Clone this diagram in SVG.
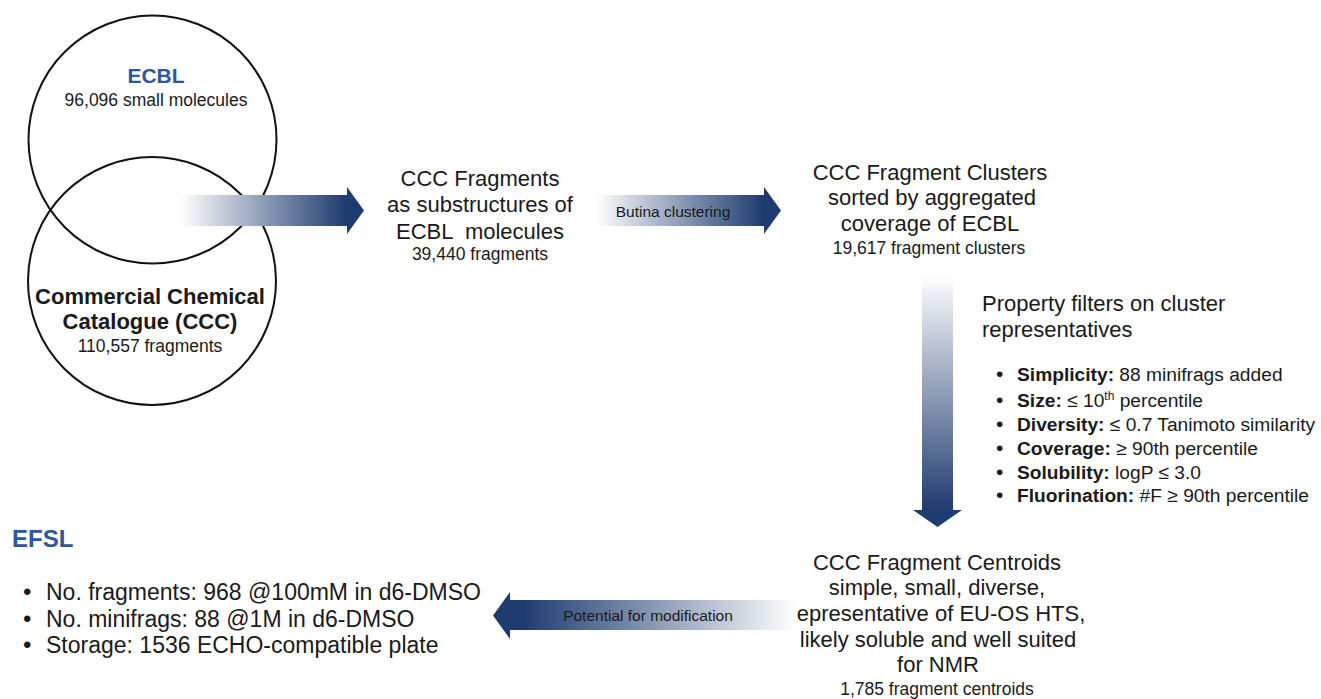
<svg xmlns="http://www.w3.org/2000/svg" width="1321" height="699" viewBox="0 0 1321 699">
<style>
text{font-family:"Liberation Sans",Arial,sans-serif;fill:#1a1a1a}
.m{font-size:22px}
.c{font-size:17.5px}
.b{font-weight:bold}
.blue{fill:#30579a;font-weight:bold}
.lbl{font-size:15.5px}
.mid{text-anchor:middle}
.circ{fill:none;stroke:#111;stroke-width:2}
</style>
<defs>
<linearGradient id="gR" x1="0" y1="0" x2="1" y2="0">
<stop offset="0" stop-color="#ffffff"/><stop offset="0.9" stop-color="#1f3c70"/><stop offset="1" stop-color="#1f3c70"/>
</linearGradient>
<linearGradient id="gL" x1="1" y1="0" x2="0" y2="0">
<stop offset="0" stop-color="#ffffff"/><stop offset="0.9" stop-color="#1f3c70"/><stop offset="1" stop-color="#1f3c70"/>
</linearGradient>
<linearGradient id="gD" x1="0" y1="0" x2="0" y2="1">
<stop offset="0" stop-color="#ffffff"/><stop offset="0.93" stop-color="#1f3c70"/><stop offset="1" stop-color="#1f3c70"/>
</linearGradient>
</defs>
<rect width="1321" height="699" fill="#ffffff"/>

<g id="venn">
<circle class="circ" cx="152.5" cy="139.5" r="124"/>
<circle class="circ" cx="152" cy="281" r="124"/>
</g>

<g id="ecbl">
<text class="blue mid" x="156" y="83" font-size="21">ECBL</text>
<text class="c mid" x="156" y="106">96,096 small molecules</text>
</g>

<g id="ccc">
<text class="m b mid" x="150" y="304">Commercial Chemical</text>
<text class="m b mid" x="150" y="329">Catalogue (CCC)</text>
<text class="c mid" x="150" y="352">110,557 fragments</text>
</g>

<g id="connectors">
<path d="M180,195 H347 V187 L364,210.5 L347,234 V226 H180 Z" fill="url(#gR)"/>
<path d="M595,195 H764 V187 L781,210.5 L764,234 V226 H595 Z" fill="url(#gR)"/>
<text class="lbl mid" x="673" y="217">Butina clustering</text>
<path d="M922,275 V510 H913 L937.5,527 L962,510 H953 V275 Z" fill="url(#gD)"/>
<path d="M797,600 H510 V592 L493,615.5 L510,639 V630 H797 Z" fill="url(#gL)"/>
<text class="lbl mid" x="648" y="621">Potential for modification</text>
</g>

<g id="ccc-fragments">
<text class="m mid" x="480" y="186">CCC Fragments</text>
<text class="m mid" x="480" y="212">as substructures of</text>
<text class="m mid" x="480" y="239" xml:space="preserve">ECBL  molecules</text>
<text class="c mid" x="480" y="260">39,440 fragments</text>
</g>

<g id="clusters">
<text class="m mid" x="930" y="180">CCC Fragment Clusters</text>
<text class="m mid" x="932" y="205">sorted by aggregated</text>
<text class="m mid" x="930" y="231">coverage of ECBL</text>
<text class="c mid" x="929" y="254">19,617 fragment clusters</text>
</g>

<g id="filters">
<text class="m" x="982" y="311">Property filters on cluster</text>
<text class="m" x="982" y="337">representatives</text>
<text x="996" y="381" font-size="21">•</text>
<text x="1017" y="381" font-size="19.2"><tspan class="b">Simplicity:</tspan> 88 minifrags added</text>
<text x="996" y="407" font-size="21">•</text>
<text x="1017" y="407" font-size="19.2"><tspan class="b">Size:</tspan> ≤ 10<tspan font-size="12" dy="-7">th</tspan><tspan dy="7"> percentile</tspan></text>
<text x="996" y="431" font-size="21">•</text>
<text x="1017" y="431" font-size="19.2"><tspan class="b">Diversity:</tspan> ≤ 0.7 Tanimoto similarity</text>
<text x="996" y="455" font-size="21">•</text>
<text x="1017" y="455" font-size="19.2"><tspan class="b">Coverage:</tspan> ≥ 90th percentile</text>
<text x="996" y="479" font-size="21">•</text>
<text x="1017" y="479" font-size="19.2"><tspan class="b">Solubility:</tspan> logP ≤ 3.0</text>
<text x="996" y="502" font-size="21">•</text>
<text x="1017" y="502" font-size="19.2"><tspan class="b">Fluorination:</tspan> #F ≥ 90th percentile</text>
</g>

<g id="centroids">
<text class="m mid" x="937" y="570">CCC Fragment Centroids</text>
<text class="m mid" x="937" y="595">simple, small, diverse,</text>
<text class="m mid" x="941" y="621">epresentative of EU-OS HTS,</text>
<text class="m mid" x="938" y="647">likely soluble and well suited</text>
<text class="m mid" x="938" y="672">for NMR</text>
<text class="c mid" x="937" y="695">1,785 fragment centroids</text>
</g>

<g id="efsl">
<text class="blue" x="12" y="547" font-size="24">EFSL</text>
<text x="23" y="600" font-size="24">•</text>
<text x="46" y="600" font-size="23">No. fragments: 968 @100mM in d6-DMSO</text>
<text x="23" y="627" font-size="24">•</text>
<text x="46" y="627" font-size="23">No. minifrags: 88 @1M in d6-DMSO</text>
<text x="23" y="653" font-size="24">•</text>
<text x="46" y="653" font-size="23">Storage: 1536 ECHO-compatible plate</text>
</g>
</svg>
